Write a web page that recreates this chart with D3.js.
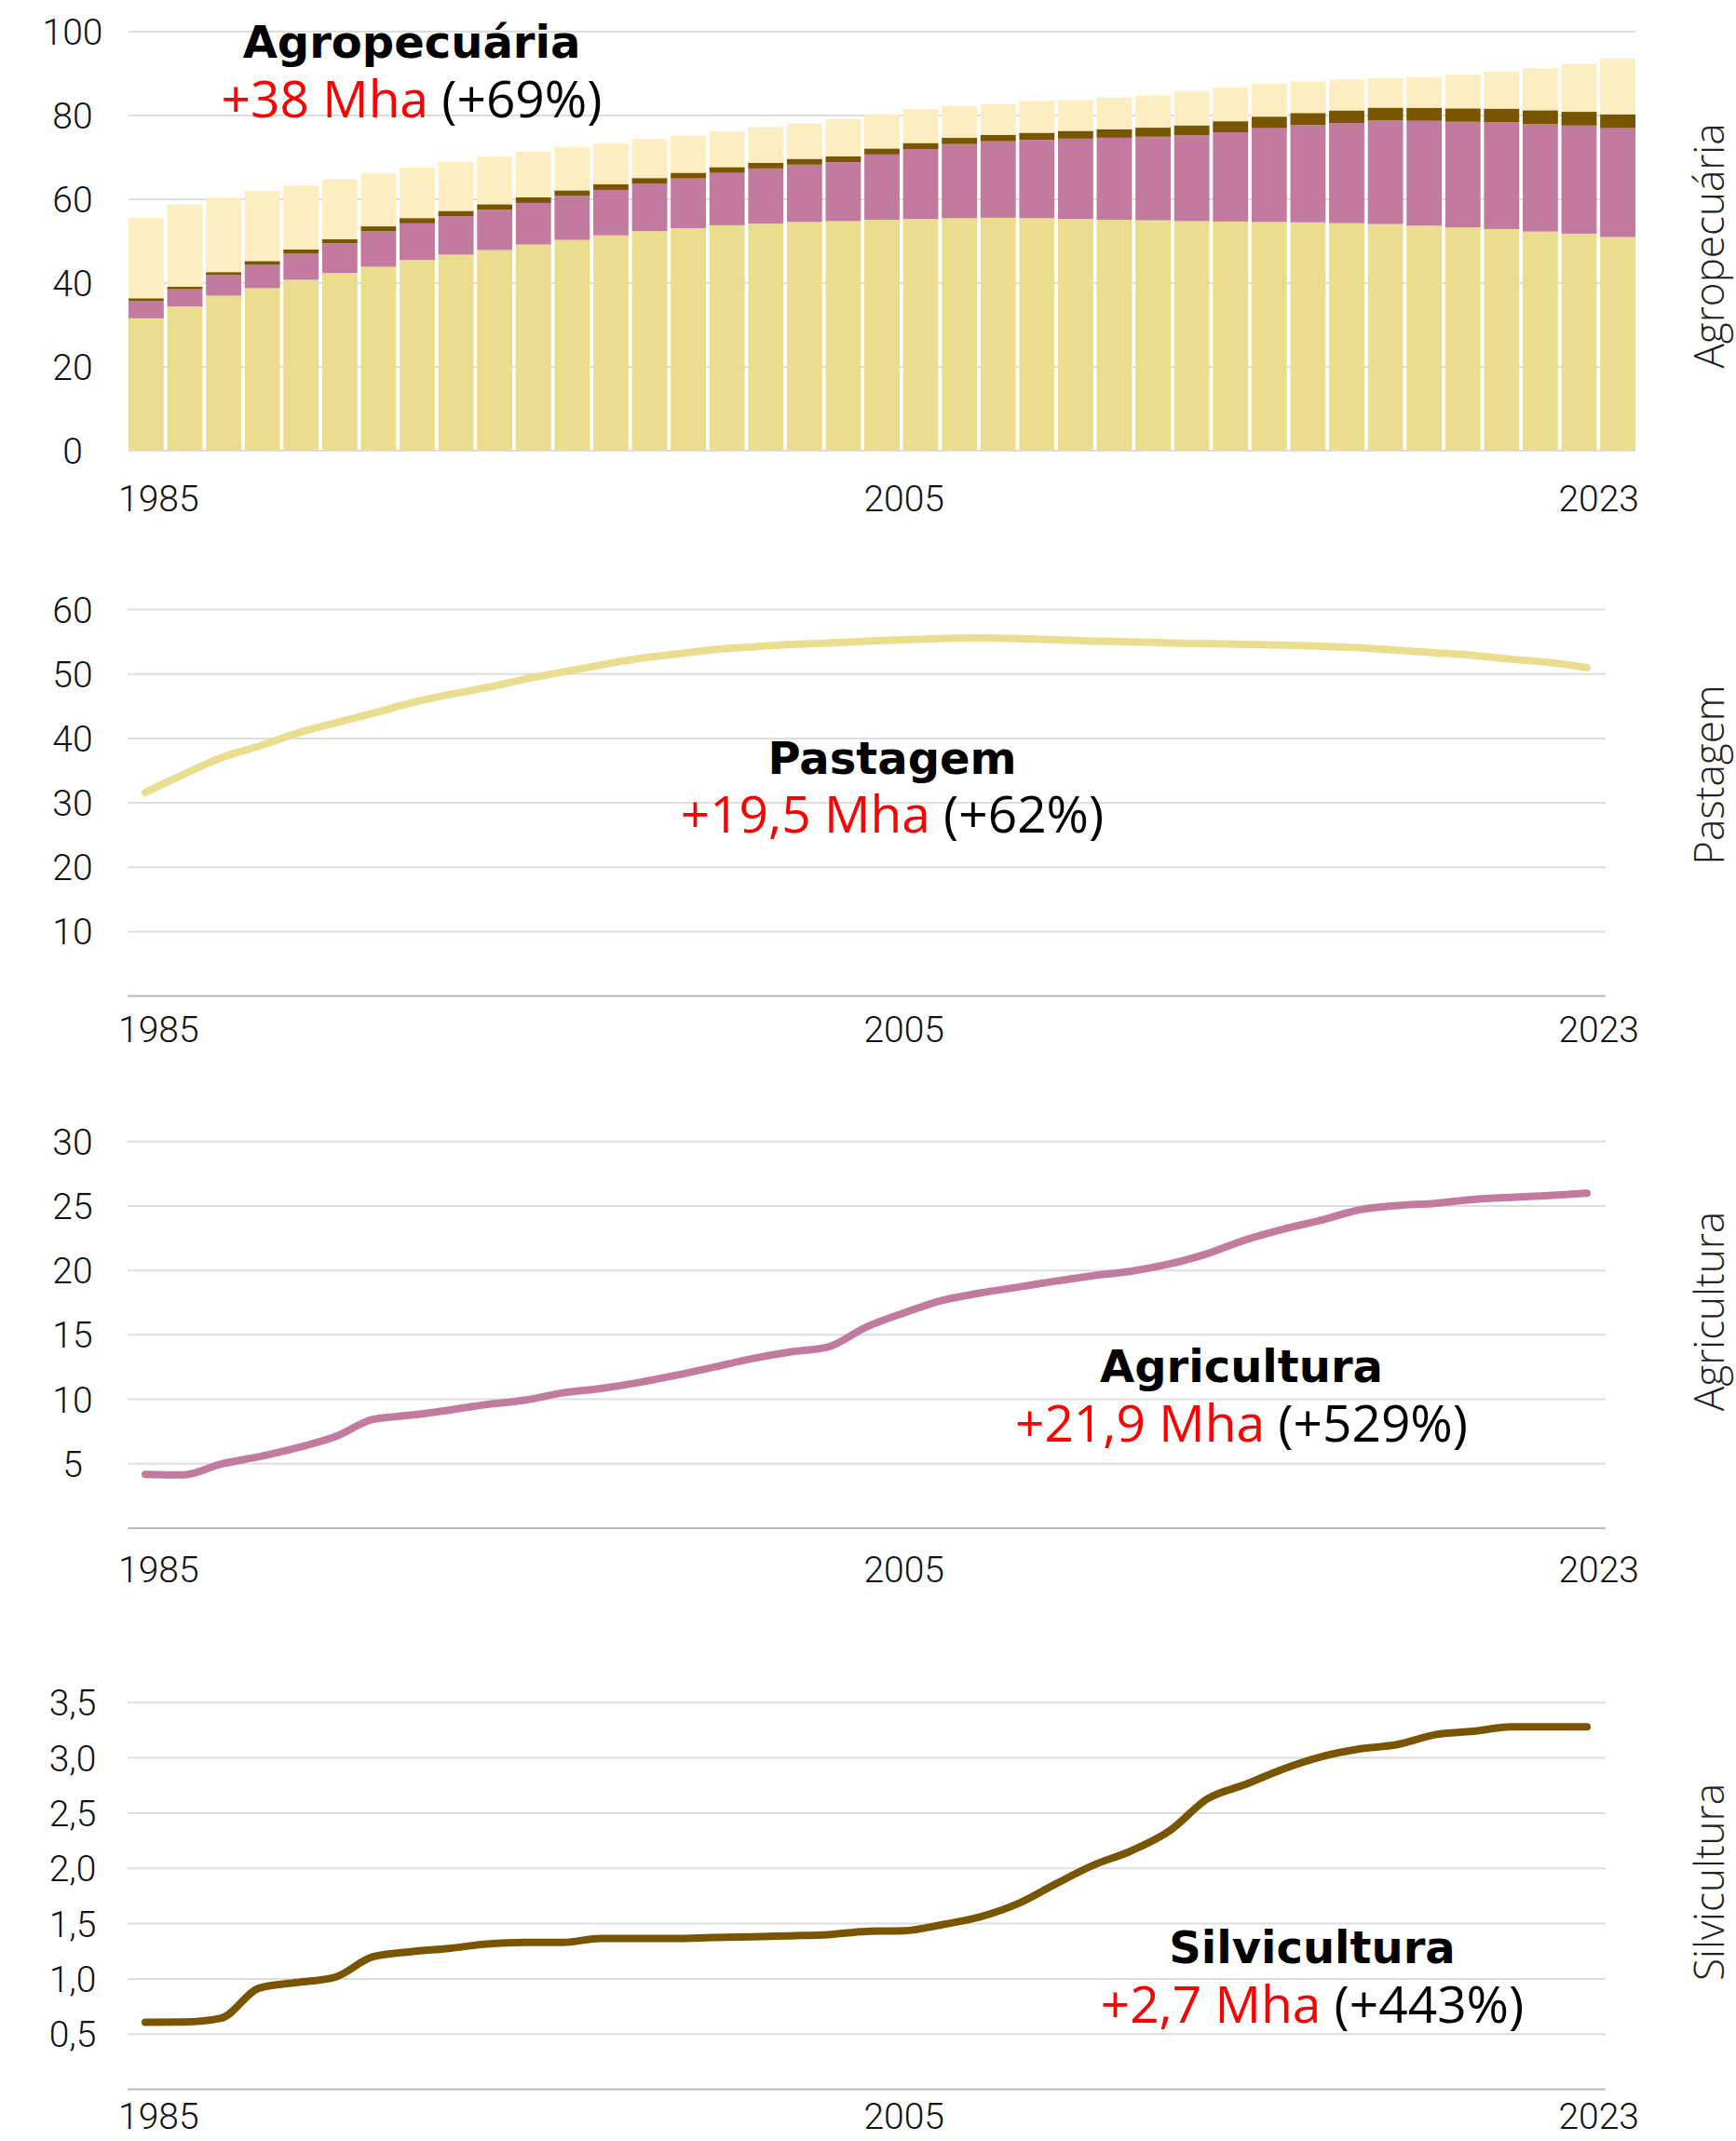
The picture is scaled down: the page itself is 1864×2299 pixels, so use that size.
<!DOCTYPE html>
<html>
<head>
<meta charset="utf-8">
<script src="https://cdn.jsdelivr.net/npm/d3@7"></script>
<style>
html,body{margin:0;padding:0;background:#fff;}
svg{display:block;}
</style>
</head>
<body>
<svg id="chart" width="1864" height="2299"></svg>
<script>
// ---------- DATA (Mha) ----------
const years = [1985,1986,1987,1988,1989,1990,1991,1992,1993,1994,1995,1996,1997,1998,1999,2000,2001,2002,2003,2004,2005,2006,2007,2008,2009,2010,2011,2012,2013,2014,2015,2016,2017,2018,2019,2020,2021,2022,2023];
const pastagem = [31.6,34.4,37.0,38.8,40.8,42.4,43.9,45.5,46.8,47.9,49.2,50.3,51.4,52.4,53.1,53.8,54.2,54.6,54.8,55.1,55.3,55.5,55.6,55.5,55.3,55.1,55.0,54.8,54.7,54.6,54.5,54.3,54.1,53.7,53.3,52.9,52.3,51.8,51.0];
const agricultura = [4.18,4.13,4.98,5.55,6.24,7.09,8.44,8.77,9.16,9.60,9.93,10.5,10.84,11.3,11.87,12.51,13.16,13.67,14.06,15.6,16.7,17.67,18.24,18.7,19.17,19.6,19.94,20.5,21.3,22.37,23.2,23.9,24.7,25.03,25.2,25.5,25.67,25.8,25.98];
const silvicultura = [0.607,0.61,0.645,0.916,0.967,1.015,1.20,1.246,1.276,1.315,1.33,1.33,1.366,1.366,1.366,1.375,1.38,1.39,1.40,1.43,1.435,1.49,1.56,1.68,1.86,2.03,2.16,2.34,2.63,2.76,2.90,3.01,3.08,3.12,3.21,3.24,3.28,3.28,3.28];
const agropecuariaTotal = [55.6,58.8,60.4,62.0,63.3,64.8,66.2,67.6,68.9,70.2,71.4,72.5,73.3,74.4,75.2,76.2,77.2,78.1,79.2,80.3,81.5,82.2,82.7,83.5,83.7,84.3,84.8,85.7,86.7,87.6,88.1,88.6,88.9,89.2,89.8,90.5,91.3,92.3,93.6];

const xTickYears = [1985, 2005, 2023];
const ticksAgro = [0, 20, 40, 60, 80, 100];
const ticksPast = [10, 20, 30, 40, 50, 60];
const ticksAgri = [5, 10, 15, 20, 25, 30];
const ticksSilv = [0.5, 1.0, 1.5, 2.0, 2.5, 3.0, 3.5];

const titles = ["Agropecuária", "Pastagem", "Agricultura", "Silvicultura"];
const changeMha = ["+38 Mha", "+19,5 Mha", "+21,9 Mha", "+2,7 Mha"];
const changePct = ["(+69%)", "(+62%)", "(+529%)", "(+443%)"];

// ---------- STYLE ----------
const col = {
  pastagem: "#EBDD8E",
  agricultura: "#C27B9F",
  silvicultura: "#7A5500",
  outros: "#FDEEC2"
};
const TICK_FONT = "Roboto, 'Liberation Sans', sans-serif";
const TITLE_FONT = "'DejaVu Sans', sans-serif";
const SUB_FONT = "'Open Sans', sans-serif";
const GRID = "#dedede";

const svg = d3.select("#chart");
svg.append("rect").attr("width", 1864).attr("height", 2299).attr("fill", "#fff");

const fmtComma = d => d3.format(".1f")(d).replace(".", ",");

// x scales
const xBand = d3.scaleBand().domain(years).range([138, 1756]).paddingInner(0.09).paddingOuter(0);
const xLine = d3.scaleLinear().domain([1985, 2023]).range([156, 1704]);

function yLabels(g, y, ticks, fmt) {
  g.selectAll("text.ytick").data(ticks).join("text")
    .attr("class", "ytick")
    .attr("x", 78)
    .attr("y", d => y(d))
    .attr("dy", "0.36em")
    .attr("text-anchor", "middle")
    .attr("font-family", TICK_FONT)
    .attr("font-weight", 300)
    .attr("font-size", 39)
    .attr("fill", "#111")
    .text(fmt);
}

function xLabels(g, yc) {
  const anchors = ["start", "middle", "end"];
  const pos = [xLine(1985) - 29, xLine(2005), xLine(2023) + 56];
  g.selectAll("text.xtick").data(xTickYears).join("text")
    .attr("class", "xtick")
    .attr("x", (d, i) => pos[i])
    .attr("y", yc)
    .attr("dy", "0.36em")
    .attr("text-anchor", (d, i) => anchors[i])
    .attr("font-family", TICK_FONT)
    .attr("font-weight", 300)
    .attr("font-size", 39)
    .attr("fill", "#111")
    .text(d => d);
}

function sideLabel(g, text, yc) {
  g.append("text")
    .attr("transform", `translate(1851,${yc}) rotate(-90)`)
    .attr("text-anchor", "middle")
    .attr("font-family", SUB_FONT)
    .attr("font-weight", 300)
    .attr("font-size", 44)
    .attr("fill", "#222")
    .text(text);
}

function titleBlock(g, i, cx, baseTitle, baseSub) {
  g.append("text")
    .attr("x", cx).attr("y", baseTitle)
    .attr("text-anchor", "middle")
    .attr("font-family", TITLE_FONT)
    .attr("font-weight", 700)
    .attr("font-size", 48)
    .attr("fill", "#000")
    .text(titles[i]);
  const t = g.append("text")
    .attr("x", cx).attr("y", baseSub)
    .attr("text-anchor", "middle")
    .attr("font-family", SUB_FONT)
    .attr("font-weight", 400)
    .attr("font-size", 55);
  t.append("tspan").attr("fill", "#ff0000").text(changeMha[i]);
  t.append("tspan").attr("fill", "#000").text(" " + changePct[i]);
}

// ---------- PANEL 1: stacked bars ----------
{
  const g = svg.append("g");
  const y = d3.scaleLinear().domain([0, 100]).range([484, 34]);
  g.selectAll("line.grid").data(ticksAgro).join("line")
    .attr("x1", 138).attr("x2", 1756)
    .attr("y1", d => y(d)).attr("y2", d => y(d))
    .attr("stroke", GRID).attr("stroke-width", 2);

  const table = years.map((yr, i) => ({
    year: yr,
    pastagem: pastagem[i],
    agricultura: agricultura[i],
    silvicultura: silvicultura[i],
    outros: agropecuariaTotal[i] - pastagem[i] - agricultura[i] - silvicultura[i]
  }));
  const keys = ["pastagem", "agricultura", "silvicultura", "outros"];
  const series = d3.stack().keys(keys)(table);
  g.selectAll("g.layer").data(series).join("g")
    .attr("class", "layer")
    .attr("fill", d => col[d.key])
    .selectAll("rect").data(d => d).join("rect")
      .attr("x", d => xBand(d.data.year))
      .attr("width", xBand.bandwidth())
      .attr("y", d => y(d[1]))
      .attr("height", d => y(d[0]) - y(d[1]));

  yLabels(g, y, ticksAgro, d => d);
  xLabels(g, 535);
  titleBlock(g, 0, 442, 62, 126);
  sideLabel(g, "Agropecuária", 264);
}

// ---------- LINE PANELS ----------
function linePanel(opts) {
  const g = svg.append("g");
  const y = d3.scaleLinear().domain([0, opts.max]).range([opts.y0, opts.yMax]);
  g.selectAll("line.grid").data(opts.ticks).join("line")
    .attr("x1", 137).attr("x2", 1724)
    .attr("y1", d => y(d)).attr("y2", d => y(d))
    .attr("stroke", GRID).attr("stroke-width", 2);
  g.append("line")
    .attr("x1", 137).attr("x2", 1724)
    .attr("y1", y(0)).attr("y2", y(0))
    .attr("stroke", "#b8b8b8").attr("stroke-width", 2);
  const line = d3.line()
    .x((d, i) => xLine(years[i]))
    .y(d => y(d))
    .curve(d3.curveMonotoneX);
  g.append("path")
    .datum(opts.values)
    .attr("d", line)
    .attr("fill", "none")
    .attr("stroke", opts.color)
    .attr("stroke-width", 8)
    .attr("stroke-linecap", "round")
    .attr("stroke-linejoin", "round");
  yLabels(g, y, opts.ticks, opts.fmt);
  xLabels(g, opts.xLabY);
  titleBlock(g, opts.idx, opts.tx, opts.tyTitle, opts.tySub);
  sideLabel(g, titles[opts.idx], opts.sideY);
}

linePanel({idx: 1, values: pastagem, color: col.pastagem, max: 60, y0: 1069.6, yMax: 654.6,
  ticks: ticksPast, fmt: d => d, xLabY: 1105, tx: 958, tyTitle: 831, tySub: 894, sideY: 832});
linePanel({idx: 2, values: agricultura, color: col.agricultura, max: 30, y0: 1641, yMax: 1225.7,
  ticks: ticksAgri, fmt: d => d, xLabY: 1685, tx: 1333, tyTitle: 1484, tySub: 1548, sideY: 1408});
linePanel({idx: 3, values: silvicultura, color: col.silvicultura, max: 3.5, y0: 2243.6, yMax: 1828.2,
  ticks: ticksSilv, fmt: fmtComma, xLabY: 2272, tx: 1409, tyTitle: 2108, tySub: 2172, sideY: 2021});
</script>
</body>
</html>
